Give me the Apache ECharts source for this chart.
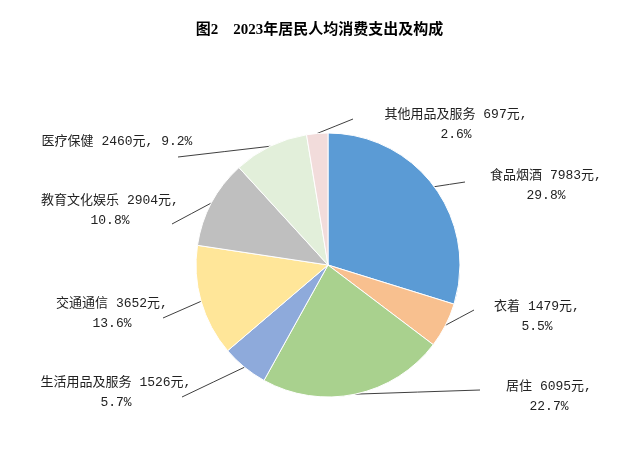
<!DOCTYPE html>
<html><head><meta charset="utf-8">
<script src="https://cdn.jsdelivr.net/npm/echarts@6/dist/echarts.min.js"></script>
<style>html,body{margin:0;padding:0;background:#fff}#c{width:639px;height:458px}</style>
</head><body><div id="c"></div>
<script>
const categories = ['食品烟酒','衣着','居住','生活用品及服务','交通通信','教育文化娱乐','医疗保健','其他用品及服务'];
const values = [7983,1479,6095,1526,3652,2904,2460,697];
const shares = ['29.8','5.5','22.7','5.7','13.6','10.8','9.2','2.6'];
const colors = ['#5b9bd5','#f8c08f','#a9d18e','#8eaadb','#ffe699','#bfbfbf','#e2efda','#f2dcdb'];

// label placement (layout only): text centre x, top y, leader-line end
const labelBoxes = [
  {x:546, y:166, ex:465, ey:182},
  {x:537, y:297, ex:474, ey:310},
  {x:549, y:377, ex:480, ey:390},
  {x:116, y:373, ex:182, ey:397},
  {x:112, y:294, ex:163, ey:318},
  {x:110, y:191, ex:172, ey:224},
  {x:117, y:132, ex:178, ey:157},
  {x:456, y:105, ex:353, ey:119}
];
const singleLine = [false,false,false,false,false,false,true,false];

const chart = echarts.init(document.getElementById('c'), null, {renderer:'canvas'});
const data = categories.map((n,i)=>({name:n, value:values[i], itemStyle:{color:colors[i]}}));

chart.setOption({
  animation:false,
  backgroundColor:'#fff',
  title:{
    text:'图2\u30002023年居民人均消费支出及构成',
    left:'center', top:18,
    textStyle:{fontFamily:"'Liberation Serif','Noto Sans CJK SC'", fontWeight:'bold', fontSize:15, color:'#000'}
  },
  series:[{
    type:'pie',
    center:[328,265],
    radius:132,
    startAngle:90,
    clockwise:true,
    data:data,
    itemStyle:{borderColor:'#fff', borderWidth:1},
    label:{
      show:true,
      position:'outside',
      fontFamily:"'Liberation Mono','Noto Sans CJK SC'",
      fontSize:13,
      lineHeight:20,
      color:'#222',
      formatter:function(p){
        const i=p.dataIndex;
        return categories[i]+' '+values[i]+'元,'+(singleLine[i]?' ':'\n')+shares[i]+'%';
      }
    },
    labelLine:{show:true, length:15, length2:10, smooth:false, lineStyle:{color:'#404040', width:1}},
    emphasis:{disabled:true},
    labelLayout:function(params){
      const b = labelBoxes[params.dataIndex];
      const pts = params.labelLinePoints;
      const res = {x:b.x, y:b.y, align:'center', verticalAlign:'top'};
      if (pts && pts[0]) {
        const s = pts[0];
        res.labelLinePoints = [[s[0],s[1]],[(s[0]+b.ex)/2,(s[1]+b.ey)/2],[b.ex,b.ey]];
      }
      return res;
    }
  }]
});
</script>
</body></html>
